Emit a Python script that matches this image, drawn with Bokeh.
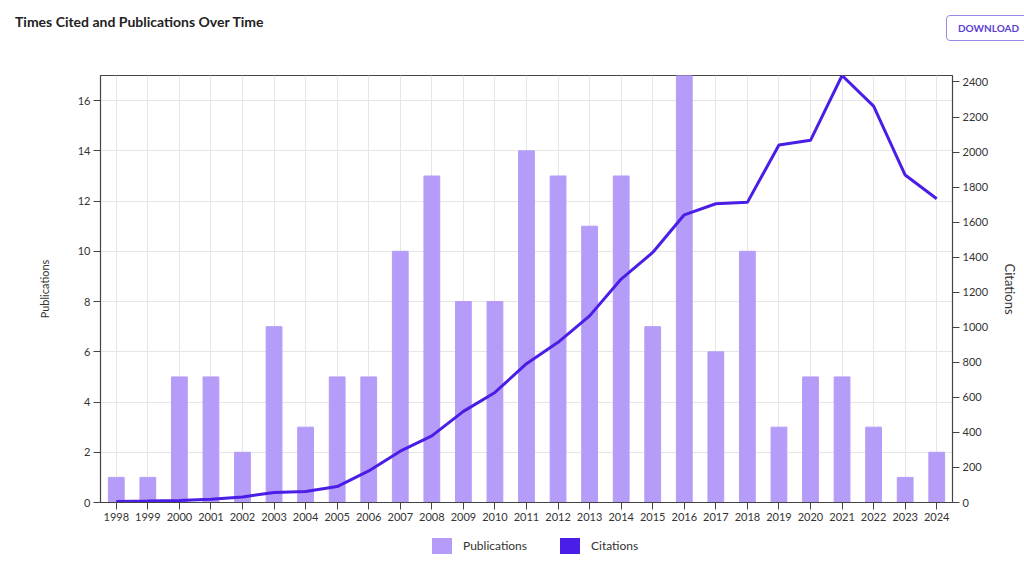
from bokeh.plotting import figure
from bokeh.models import (Range1d, FactorRange, LinearAxis, SingleIntervalTicker,
                          ColumnDataSource, Div)
from bokeh.layouts import column
from bokeh.embed import file_html
from bokeh.resources import INLINE

years = [str(y) for y in range(1998, 2025)]
publications = [1, 1, 5, 5, 2, 7, 3, 5, 5, 10, 13, 8, 8, 14, 13, 11, 13, 7, 17, 6, 10, 3, 5, 5, 3, 1, 2]
citations = [6, 8, 11, 19, 32, 57, 63, 91, 180, 293, 380, 520, 628, 792, 914, 1065, 1275,
             1427, 1642, 1705, 1713, 2040, 2067, 2437, 2262, 1869, 1734]
title_text = "Times Cited and Publications Over Time"
button_text = "DOWNLOAD"
series_names = ["Publications", "Citations"]

BAR = "#b59cf8"
LINE = "#4a1ee6"
FONT = "Lato"
AXC = "#444444"
TXT = "#333333"

src = ColumnDataSource(dict(year=years, pubs=publications, cits=citations))

p = figure(width=1024, height=470, x_range=FactorRange(*years),
           y_range=Range1d(0, max(publications)),
           output_backend="svg", toolbar_location=None, margin=0,
           min_border_left=100, min_border_right=72, min_border_top=15, min_border_bottom=28)
p.extra_y_ranges = {"cit": Range1d(0, max(citations))}

bars = p.vbar(x="year", top="pubs", width=0.5, source=src, fill_color=BAR, line_color=BAR)
line = p.line(x="year", y="cits", source=src, y_range_name="cit", line_color=LINE, line_width=3)

p.yaxis.ticker = SingleIntervalTicker(interval=2)
p.yaxis.axis_label = series_names[0]
raxis = LinearAxis(y_range_name="cit", ticker=SingleIntervalTicker(interval=200),
                   axis_label=series_names[1])
p.add_layout(raxis, "right")

for ax in [p.xaxis[0], p.yaxis[0], raxis]:
    ax.axis_line_color = AXC
    ax.axis_line_width = 1.2
    ax.major_tick_line_color = AXC
    ax.major_tick_out = 7
    ax.major_tick_in = 0
    ax.minor_tick_line_color = None
    ax.major_label_text_font = FONT
    ax.major_label_text_font_size = "11px"
    ax.major_label_text_color = TXT
    ax.major_label_standoff = 3
    ax.axis_label_text_font = FONT
    ax.axis_label_text_font_style = "normal"
    ax.axis_label_text_color = TXT
p.yaxis[0].axis_label_text_font_size = "11px"
p.yaxis[0].axis_label_standoff = 24
raxis.axis_label_text_font_size = "13px"
raxis.axis_label_standoff = 11

p.xgrid.grid_line_color = "#e6e6e6"
p.ygrid.grid_line_color = "#e6e6e6"
p.outline_line_color = AXC
p.outline_line_width = 1
p.background_fill_color = "white"
p.border_fill_color = "white"

header = Div(width=1024, height=60, margin=0, text=(
    '<div style="position:relative;width:1024px;height:60px;font-family:Lato;">'
    '<span style="position:absolute;left:15px;top:14px;line-height:16px;font-size:14px;'
    'font-weight:bold;color:#222;white-space:nowrap;">' + title_text + '</span>'
    '<span style="position:absolute;left:946px;top:15px;height:26px;width:90px;box-sizing:border-box;'
    'border:1px solid #9c87e8;border-radius:4px;padding-left:11px;line-height:24px;font-size:10px;'
    'font-weight:bold;color:#5b3fd0;white-space:nowrap;">' + button_text + '</span>'
    '</div>'))

legend_div = Div(width=1024, height=34, margin=0, text=(
    '<div style="position:relative;width:1024px;height:34px;font-family:Lato;font-size:12px;color:#333;">'
    '<span style="position:absolute;left:432px;top:8px;width:20px;height:16px;background:' + BAR + ';"></span>'
    '<span style="position:absolute;left:463px;top:8px;line-height:16px;white-space:nowrap;">' + series_names[0] + '</span>'
    '<span style="position:absolute;left:560px;top:8px;width:20px;height:16px;background:' + LINE + ';"></span>'
    '<span style="position:absolute;left:591px;top:8px;line-height:16px;white-space:nowrap;">' + series_names[1] + '</span>'
    '</div>'))

layout = column(header, p, legend_div, spacing=0, margin=0)

open("out.html", "w").write(file_html(layout, INLINE))
